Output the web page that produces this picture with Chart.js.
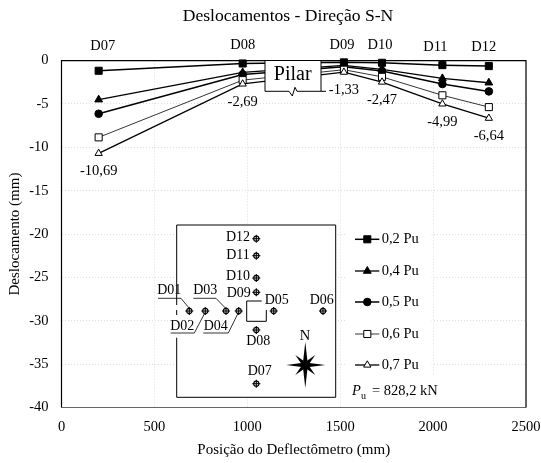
<!DOCTYPE html>
<html>
<head>
<meta charset="utf-8">
<style>
html, body { margin: 0; padding: 0; background: #fff; }
canvas { display: block; }
</style>
<script src="https://cdn.jsdelivr.net/npm/chart.js@4"></script>
</head>
<body>
<canvas id="chart" width="541" height="463"></canvas>
<script>
const positions = [200, 975, 1520, 1725, 2050, 2300];
const gauges = ["D07", "D08", "D09", "D10", "D11", "D12"];
const seriesNames = ["0,2 Pu", "0,4 Pu", "0,5 Pu", "0,6 Pu", "0,7 Pu"];
const pu02 = [-1.17, -0.33, -0.2, -0.25, -0.52, -0.63];
const pu04 = [-4.5, -1.36, -0.55, -1.0, -2.05, -2.55];
const pu05 = [-6.13, -1.6, -0.7, -1.2, -2.7, -3.55];
const pu06 = [-8.85, -2.25, -1.05, -1.87, -4.0, -5.36];
const pu07 = [-10.69, -2.69, -1.33, -2.47, -4.99, -6.64];
const xTicks = [0, 500, 1000, 1500, 2000, 2500];
const yTicks = [0, -5, -10, -15, -20, -25, -30, -35, -40];

const FONT = '"Liberation Serif"';
const styles = [
    { point: "rect", radius: 5, fill: "#000", width: 1.5 },
    { point: "triangle", radius: 4.5, fill: "#000", width: 1.3 },
    { point: "circle", radius: 3.8, fill: "#000", width: 1.5 },
    { point: "rect", radius: 5, fill: "#fff", width: 0.8 },
    { point: "triangle", radius: 4.2, fill: "#fff", width: 1.3 }
];

function text(ctx, str, x, y, size, align) {
    ctx.font = (size || 14.5) + "px " + FONT;
    ctx.textAlign = align || "center";
    ctx.textBaseline = "middle";
    ctx.fillStyle = "#000";
    ctx.fillText(str, x, y);
}

function poly(ctx, pts, width) {
    ctx.beginPath();
    pts.forEach((p, i) => i ? ctx.lineTo(p[0], p[1]) : ctx.moveTo(p[0], p[1]));
    ctx.lineWidth = width || 1;
    ctx.strokeStyle = "#000";
    ctx.stroke();
}

// title is off-centre in the original
const titleShift = {
    id: "titleShift",
    afterLayout(chart) {
        chart.titleBlock.left = 50;
    }
};

// frame, gauge names and the -x,xx labels under the last series
const framePlugin = {
    id: "frame",
    afterDatasetsDraw(chart) {
        const ctx = chart.ctx, a = chart.chartArea;
        const xs = chart.scales.x, ys = chart.scales.y;
        ctx.save();
        ctx.strokeStyle = "#666";
        ctx.lineWidth = 1.2;
        ctx.beginPath();
        ctx.moveTo(a.left, a.bottom);
        ctx.lineTo(a.right, a.bottom);
        ctx.stroke();
        poly(ctx, [[a.left, a.bottom], [a.left, a.top], [a.right, a.top], [a.right, a.bottom]], 1.2);

        const gaugeY = [46, 45, 45, 45, 47, 47];
        const gaugeDx = [4, 0, -2, -2, -7, -5];
        gauges.forEach((g, i) => {
            text(ctx, g, xs.getPixelForValue(positions[i]) + gaugeDx[i], gaugeY[i]);
            const v = pu07[i].toFixed(2).replace(".", ",");
            text(ctx, v, xs.getPixelForValue(positions[i]), ys.getPixelForValue(pu07[i]) + 18);
        });
        ctx.restore();
    }
};

// column outline at the top of the plot
const pilarPlugin = {
    id: "pilar",
    afterDatasetsDraw(chart) {
        const ctx = chart.ctx;
        ctx.save();
        ctx.fillStyle = "#fff";
        ctx.fillRect(265, 61, 56, 30);
        poly(ctx, [[265, 61], [265, 91.3], [289, 91.3], [292.3, 96], [295, 87.3], [297, 91.3], [326, 91.3]], 1);
        poly(ctx, [[321, 61], [321, 91.3]], 1);
        text(ctx, "Pilar", 292.7, 75, 20);
        ctx.restore();
    }
};

function gaugeMark(ctx, x, y) {
    ctx.beginPath();
    ctx.arc(x, y, 2.6, 0, Math.PI * 2);
    ctx.lineWidth = 1.1;
    ctx.strokeStyle = "#000";
    ctx.stroke();
    poly(ctx, [[x - 4, y], [x + 4, y]], 1.1);
    poly(ctx, [[x, y - 4], [x, y + 4]], 1.1);
}

function compass(ctx, cx, cy) {
    const long = [[0, -23], [20, 0], [0, 23], [-19, 0]];
    const short = [[10, -10], [10, 10], [-10, 10], [-10, -10]];
    ctx.fillStyle = "#000";
    short.concat(long).forEach(p => {
        const nx = -p[1] / Math.hypot(p[0], p[1]) * 2.6;
        const ny = p[0] / Math.hypot(p[0], p[1]) * 2.6;
        ctx.beginPath();
        ctx.moveTo(cx + p[0], cy + p[1]);
        ctx.lineTo(cx + nx, cy + ny);
        ctx.lineTo(cx - nx, cy - ny);
        ctx.closePath();
        ctx.fill();
    });
}

// plan view of the slab
const planPlugin = {
    id: "plan",
    afterDatasetsDraw(chart) {
        const ctx = chart.ctx;
        ctx.save();
        ctx.fillStyle = "#fff";
        ctx.fillRect(177, 225, 159, 172);
        poly(ctx, [[176.7, 305], [176.7, 225], [335.7, 225], [335.7, 397.3], [176.7, 397.3], [176.7, 337.7]], 1);
        poly(ctx, [[176.7, 310], [176.7, 315]], 1);

        poly(ctx, [[261.7, 301], [246.7, 301], [246.7, 321.3], [266.3, 321.3], [266.3, 310]], 1);

        [[256.3, 238.7], [256.3, 255.7], [256.3, 278], [256.3, 292.3], [189.3, 311], [205.3, 311],
         [226, 311], [238.7, 311], [273.7, 311], [323, 311], [256.3, 330], [256.3, 383.7]]
            .forEach(p => gaugeMark(ctx, p[0], p[1]));

        const names = [["D12", 238, 237.7], ["D11", 238, 255], ["D10", 238, 276], ["D09", 238.7, 293],
            ["D05", 276.7, 300], ["D06", 321.7, 300], ["D01", 169.3, 290.7], ["D03", 205.3, 290.7],
            ["D02", 182.3, 326.7], ["D04", 215.7, 326.7], ["D08", 258.3, 341.7], ["D07", 259.7, 371.7]];
        names.forEach(n => text(ctx, n[0], n[1], n[2], 14));

        poly(ctx, [[158, 298.3], [181, 298.3], [189, 308]], 0.8);
        poly(ctx, [[193.3, 298.3], [216, 298.3], [225.3, 308]], 0.8);
        poly(ctx, [[170.7, 333], [194.3, 333], [204.3, 314]], 0.8);
        poly(ctx, [[203.3, 333], [228.3, 333], [237.7, 314]], 0.8);

        text(ctx, "N", 305, 335.7);
        compass(ctx, 305.3, 365);
        ctx.restore();
    }
};

// legend sits inside the plot, next to the plan
const keyPlugin = {
    id: "key",
    afterDatasetsDraw(chart) {
        const ctx = chart.ctx;
        const rowY = [239.3, 271, 302, 334, 365];
        ctx.save();
        ctx.fillStyle = "#fff";
        ctx.fillRect(345, 225, 86.5, 150);
        ctx.fillRect(345, 375, 100, 32);
        seriesNames.forEach((name, i) => {
            const s = styles[i], y = rowY[i];
            poly(ctx, [[355, y], [379.3, y]], s.width);
            ctx.fillStyle = s.fill;
            ctx.strokeStyle = "#000";
            ctx.lineWidth = 1;
            Chart.helpers.drawPoint(ctx, { pointStyle: s.point, radius: s.radius, rotation: 0, borderWidth: 1 }, 367.3, y);
            text(ctx, name, 381.7, y, 14.5, "left");
        });
        ctx.font = "italic 14.5px " + FONT;
        ctx.textAlign = "left";
        ctx.textBaseline = "middle";
        ctx.fillStyle = "#000";
        ctx.fillText("P", 352, 391);
        text(ctx, "u", 361, 396, 10, "left");
        text(ctx, "= 828,2 kN", 372, 391, 14.5, "left");
        ctx.restore();
    }
};

const rows = [pu02, pu04, pu05, pu06, pu07];

new Chart(document.getElementById("chart").getContext("2d"), {
    type: "line",
    data: {
        labels: positions,
        datasets: seriesNames.map((name, i) => ({
            label: name,
            data: positions.map((x, k) => ({ x: x, y: rows[i][k] })),
            order: seriesNames.length - i,
            borderColor: "#000",
            borderWidth: styles[i].width,
            backgroundColor: styles[i].fill,
            pointStyle: styles[i].point,
            pointRadius: styles[i].radius,
            pointBackgroundColor: styles[i].fill,
            pointBorderColor: "#000",
            pointBorderWidth: 1,
            tension: 0,
            clip: false
        }))
    },
    options: {
        animation: false,
        responsive: false,
        layout: { padding: { left: 0, right: 15, top: 0, bottom: 0 } },
        font: { family: FONT },
        plugins: {
            legend: { display: false },
            tooltip: { enabled: false },
            title: {
                display: true,
                text: "Deslocamentos - Direção S-N",
                color: "#000",
                font: { family: FONT, size: 17.6, weight: "normal" },
                padding: { top: 5.5, bottom: 34 }
            }
        },
        scales: {
            x: {
                type: "linear",
                min: 0,
                max: 2500,
                afterBuildTicks: s => { s.ticks = xTicks.map(v => ({ value: v })); },
                afterFit: s => { s.height = 55.5; s.paddingLeft = 0; s.paddingRight = 0; },
                ticks: {
                    color: "#000",
                    maxRotation: 0,
                    padding: 11,
                    font: { family: FONT, size: 14.5 },
                    callback: v => String(v)
                },
                grid: { color: "#dedede", drawTicks: false },
                border: { display: false, dash: [1, 2] },
                title: {
                    display: true,
                    text: "Posição do Deflectômetro (mm)",
                    color: "#000",
                    font: { family: FONT, size: 15 },
                    padding: { top: 0, bottom: 4 }
                }
            },
            y: {
                min: -40,
                max: 0,
                afterBuildTicks: s => { s.ticks = yTicks.map(v => ({ value: v })); },
                afterFit: s => { s.width = 61.5; },
                ticks: {
                    color: "#000",
                    padding: 13,
                    font: { family: FONT, size: 14.5 },
                    callback: v => String(v)
                },
                grid: { color: "#dedede", drawTicks: false },
                border: { display: false, dash: [1, 2] },
                title: {
                    display: true,
                    text: "Deslocamento (mm)",
                    color: "#000",
                    font: { family: FONT, size: 15 },
                    padding: { top: 6, bottom: 0 }
                }
            }
        }
    },
    plugins: [titleShift, framePlugin, pilarPlugin, planPlugin, keyPlugin]
});
</script>
</body>
</html>
